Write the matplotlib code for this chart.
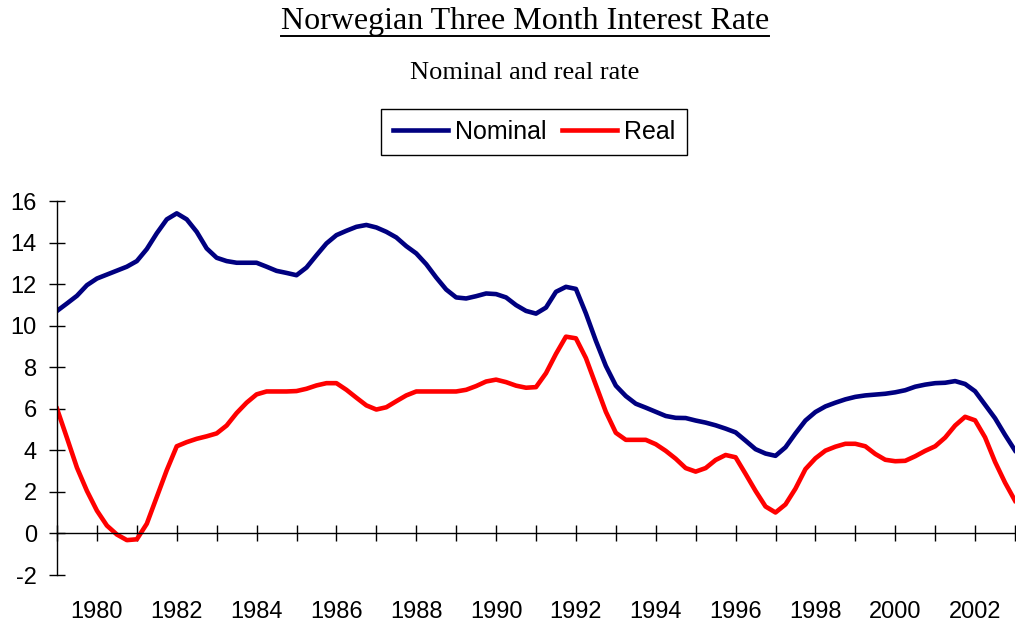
import numpy as np
import matplotlib.pyplot as plt
from matplotlib.lines import Line2D
from matplotlib.transforms import IdentityTransform
from matplotlib.ticker import FixedLocator

# quarterly observations, first one at 1979.0
start_year = 1979.0
nominal = [10.72, 11.08, 11.45, 11.96, 12.28, 12.47, 12.66, 12.85,
           13.12, 13.70, 14.46, 15.13, 15.42, 15.13, 14.53, 13.73,
           13.28, 13.12, 13.04, 13.04, 13.04, 12.85, 12.65, 12.55,
           12.44, 12.81, 13.40, 13.97, 14.37, 14.58, 14.77, 14.86,
           14.74, 14.53, 14.26, 13.84, 13.49, 12.97, 12.33, 11.75,
           11.37, 11.32, 11.43, 11.56, 11.53, 11.37, 11.00, 10.72,
           10.59, 10.88, 11.64, 11.88, 11.78, 10.60, 9.28, 8.07,
           7.12, 6.62, 6.25, 6.06, 5.86, 5.66, 5.57, 5.56,
           5.44, 5.34, 5.21, 5.05, 4.87, 4.47, 4.06, 3.85,
           3.74, 4.15, 4.82, 5.44, 5.85, 6.12, 6.30, 6.46,
           6.58, 6.65, 6.69, 6.73, 6.80, 6.90, 7.07, 7.17,
           7.24, 7.26, 7.34, 7.20, 6.85, 6.20, 5.55, 4.75,
           4.00]
real = [6.01, 4.60, 3.17, 2.05, 1.10, 0.38, -0.05, -0.32,
        -0.28, 0.47, 1.76, 3.05, 4.20, 4.40, 4.56, 4.68,
        4.82, 5.20, 5.80, 6.30, 6.70, 6.84, 6.84, 6.84,
        6.86, 6.97, 7.13, 7.24, 7.24, 6.92, 6.54, 6.17,
        5.97, 6.08, 6.37, 6.65, 6.84, 6.84, 6.84, 6.84,
        6.84, 6.92, 7.10, 7.32, 7.41, 7.29, 7.12, 7.02,
        7.05, 7.72, 8.65, 9.48, 9.40, 8.45, 7.15, 5.86,
        4.85, 4.51, 4.51, 4.51, 4.30, 3.98, 3.60, 3.15,
        2.98, 3.15, 3.54, 3.78, 3.67, 2.87, 2.05, 1.30,
        1.01, 1.40, 2.16, 3.10, 3.62, 3.99, 4.18, 4.32,
        4.32, 4.20, 3.83, 3.55, 3.48, 3.50, 3.72, 3.98,
        4.20, 4.62, 5.20, 5.62, 5.45, 4.63, 3.45, 2.45,
        1.58]
years = start_year + 0.25 * np.arange(len(nominal))

label_years = list(range(1980, 2003, 2))
minor_years = list(range(1979, 2004, 2))
y_ticks = list(range(-2, 17, 2))

plt.rcParams['font.family'] = ['Liberation Sans', 'DejaVu Sans']
plt.rcParams['axes.unicode_minus'] = False

fig = plt.figure(figsize=(10.16, 6.26), dpi=100)
ax = fig.add_axes([57 / 1016, 51 / 626, 958 / 1016, 373.7 / 626])

ax.plot(years, nominal, color='#000080', lw=3.3, label='Nominal', solid_joinstyle='round')
ax.plot(years, real, color='#ff0000', lw=3.3, label='Real', solid_joinstyle='round')

ax.set_xlim(1979, 2003)
ax.set_ylim(-2, 16)
ax.spines['top'].set_visible(False)
ax.spines['right'].set_visible(False)
ax.spines['bottom'].set_position(('data', 0))
ax.spines['bottom'].set_linewidth(1)
ax.spines['left'].set_linewidth(1)

ax.xaxis.set_major_locator(FixedLocator(label_years))
ax.xaxis.set_minor_locator(FixedLocator(minor_years))
ax.set_yticks(y_ticks)
ax.tick_params(axis='both', which='both', direction='inout', length=11, width=1, labelsize=17)
ax.tick_params(axis='x', which='major', pad=43)
ax.tick_params(axis='y', pad=9)

title = fig.text(525 / 1016, 1 - 21 / 626, 'Norwegian Three Month Interest Rate',
                 family='Liberation Serif', fontsize=23, ha='center', va='center')
fig.text(525 / 1016, 1 - 73 / 626, 'Nominal and real rate',
         family='Liberation Serif', fontsize=19, ha='center', va='center')

fig.legend(loc='center', bbox_to_anchor=(534 / 1016, 1 - 132 / 626), ncol=2,
           fontsize=18, frameon=True, fancybox=False, edgecolor='black', framealpha=1,
           handlelength=2.2, handletextpad=0.3, columnspacing=0.6, borderpad=0.45,
           borderaxespad=0)

# underline the title
fig.canvas.draw()
bb = title.get_window_extent()
fig.add_artist(Line2D([bb.x0, bb.x1], [626 - 35.5, 626 - 35.5], transform=IdentityTransform(),
                      color='black', lw=1.4))

fig.savefig('out.png', dpi=100)
